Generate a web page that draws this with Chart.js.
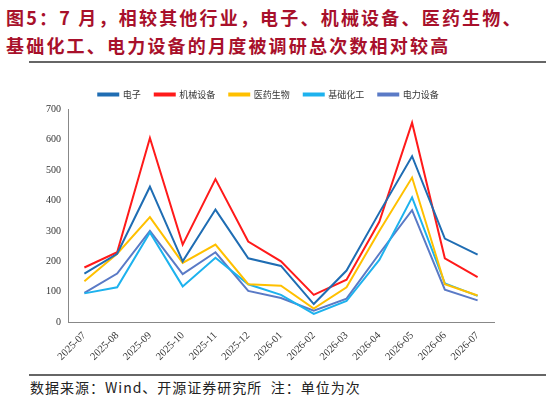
<!DOCTYPE html>
<html><head><meta charset="utf-8">
<script src="https://cdn.jsdelivr.net/npm/chart.js@4"></script>
<style>
body{margin:0;width:546px;height:405px;background:#fff;font-family:"Noto Sans CJK SC",sans-serif;position:relative;overflow:hidden}
#title{position:absolute;left:6px;top:3px;font-size:18px;font-weight:bold;color:#a8102b;line-height:28px;letter-spacing:2.2px}
.rule{position:absolute;left:29px;width:517px;height:2px;background:#666}
#wrap{position:absolute;left:29px;top:64px;width:517px;height:308px}
#src{position:absolute;left:30px;top:377px;font-size:14px;color:#222;letter-spacing:1px;font-family:"Noto Sans CJK SC","Liberation Serif",serif}
</style></head><body>
<div id="title">图5：7 月，相较其他行业，电子、机械设备、医药生物、<br>基础化工、电力设备的月度被调研总次数相对较高</div>
<div class="rule" style="top:61px"></div>
<div id="wrap"><canvas id="c"></canvas></div>
<div class="rule" style="top:374px"></div>
<div id="src">数据来源：Wind、开源证券研究所&nbsp;&nbsp;注：单位为次</div>
<script>
// months on the x axis
const months = ['2025-07','2025-08','2025-09','2025-10','2025-11','2025-12','2026-01','2026-02','2026-03','2026-04','2026-05','2026-06','2026-07'];
const electronics = [160,225,445,200,370,210,185,60,170,360,545,275,222];
const machinery = [180,230,605,255,470,265,200,90,140,330,655,210,148];
const pharma = [135,225,345,195,255,125,120,45,115,300,475,125,88];
const chemicals = [95,115,295,118,212,125,90,28,70,205,410,128,87];
const power = [97,160,300,158,230,103,80,38,78,225,368,107,72];
const yTicks = [0,100,200,300,400,500,600,700];

function ds(label, data, color) {
    return {label, data, borderColor: color, backgroundColor: color, borderWidth: 2, pointRadius: 0, tension: 0};
}

new Chart(document.getElementById('c'), {
    type: 'line',
    data: {
        labels: months,
        datasets: [
            ds('电子', electronics, '#1f6db3'),
            ds('机械设备', machinery, '#ff1a1a'),
            ds('医药生物', pharma, '#ffc000'),
            ds('基础化工', chemicals, '#1db2ee'),
            ds('电力设备', power, '#5a7ac6')
        ]
    },
    options: {
        responsive: true,
        maintainAspectRatio: false,
        animation: false,
        layout: {padding: {left: 14, right: 52, top: 12, bottom: 6}},
        plugins: {
            legend: {
                labels: {boxWidth: 20, boxHeight: 2, font: {size: 9, family: "'Noto Sans CJK SC'"}, color: '#333', padding: 14}
            },
            tooltip: {enabled: false}
        },
        scales: {
            x: {
                offset: true,
                grid: {display: false, drawTicks: true, tickLength: 4},
                border: {color: '#888'},
                ticks: {maxRotation: 45, minRotation: 45, font: {size: 10.5, family: "'Liberation Serif'"}, color: '#333'}
            },
            y: {
                min: 0, max: 700,
                afterBuildTicks: axis => { axis.ticks = yTicks.map(v => ({value: v})); },
                grid: {display: false, tickLength: 4},
                border: {color: '#888'},
                ticks: {font: {size: 10, family: "'Liberation Serif'"}, color: '#333'}
            }
        }
    }
});
</script>
</body></html>
